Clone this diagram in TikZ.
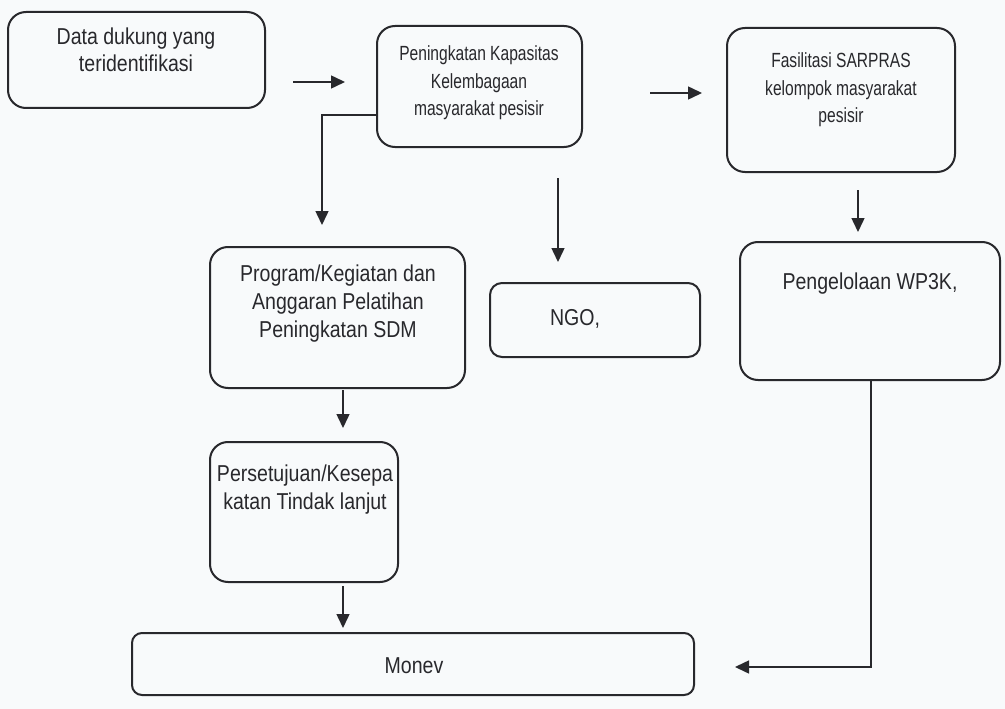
\documentclass[tikz,border=0pt]{standalone}
\usepackage{fontspec}
\setmainfont{Liberation Sans}[FakeStretch=0.85]
\newfontfamily\narrowsans{Liberation Sans}[FakeStretch=0.76]
\usetikzlibrary{arrows.meta}
\definecolor{ink}{RGB}{40,40,44}
\definecolor{paper}{RGB}{248,250,251}
\begin{document}
\begin{tikzpicture}[x=1pt,y=-1pt,
  box/.style={draw=ink, line width=2pt, rounded corners=18pt, anchor=north west,
              inner sep=0pt, outer sep=0pt},
  bigtxt/.style={text=ink, align=center, inner sep=0pt, anchor=base,
                 font=\fontsize{23}{28}\selectfont},
  smalltxt/.style={text=ink, align=center, inner sep=0pt, anchor=base,
                   font=\narrowsans\fontsize{20.5}{27.5}\selectfont},
  flow/.style={draw=ink, line width=1.5pt, -{Triangle[length=14pt,width=13pt]}}]
  % page
  \fill[paper] (0,0) rectangle (1005,709);
  \useasboundingbox (0,0) rectangle (1005,709);

  % boxes
  \node[box, minimum width=257, minimum height=96] (data) at (8,12) {};
  \node[box, minimum width=205, minimum height=121] (kapasitas) at (377,26) {};
  \node[box, minimum width=228, minimum height=144] (sarpras) at (727,28) {};
  \node[box, minimum width=260, minimum height=138] (wp3k) at (740,242) {};
  \node[box, minimum width=255, minimum height=141] (program) at (210,247) {};
  \node[box, minimum width=210, minimum height=74, rounded corners=12pt] (ngo) at (490,283) {};
  \node[box, minimum width=188, minimum height=140] (setuju) at (210,442) {};
  \node[box, minimum width=562, minimum height=62, rounded corners=10pt] (monev) at (132,633) {};

  % texts (anchored at the baseline of the last line)
  \node[bigtxt] (tdata) at (136,72) {Data dukung yang\\teridentifikasi};
  \node[smalltxt] (tkap) at (479,116) {Peningkatan Kapasitas\\Kelembagaan\\masyarakat pesisir};
  \node[smalltxt] (tsar) at (841,123) {Fasilitasi SARPRAS\\kelompok masyarakat\\pesisir};
  \node[bigtxt] (twp) at (870,289) {Pengelolaan WP3K,};
  \node[bigtxt] (tprog) at (338,337) {Program/Kegiatan dan\\Anggaran Pelatihan\\Peningkatan SDM};
  \node[bigtxt] (tngo) at (575,325) {NGO,};
  \node[bigtxt] (tset) at (305,509) {Persetujuan/Kesepa\\katan Tindak lanjut};
  \node[bigtxt] (tmon) at (414,673) {Monev};

  % connector end points
  \coordinate (a1s) at (293,82);  \coordinate (a1e) at (345,82);
  \coordinate (a2s) at (650,93);  \coordinate (a2e) at (702,93);
  \coordinate (a3s) at (858,190); \coordinate (a3e) at (858,232);
  \coordinate (kl)  at (kapasitas.west |- 0,115);
  \coordinate (pr)  at (322,225);
  \coordinate (ns)  at (558,178); \coordinate (ne)  at (558,262);
  \coordinate (p1s) at (343,390); \coordinate (p1e) at (343,428);
  \coordinate (p2s) at (343,586); \coordinate (p2e) at (343,628);
  \coordinate (wb)  at (871,380); \coordinate (me)  at (735,667);

  % connectors
  \draw[flow] (a1s) -- (a1e);
  \draw[flow] (a2s) -- (a2e);
  \draw[flow] (a3s) -- (a3e);
  \draw[flow] (kl) -| (pr);
  \draw[flow] (ns) -- (ne);
  \draw[flow] (p1s) -- (p1e);
  \draw[flow] (p2s) -- (p2e);
  \draw[flow] (wb) |- (me);
\end{tikzpicture}
\end{document}
